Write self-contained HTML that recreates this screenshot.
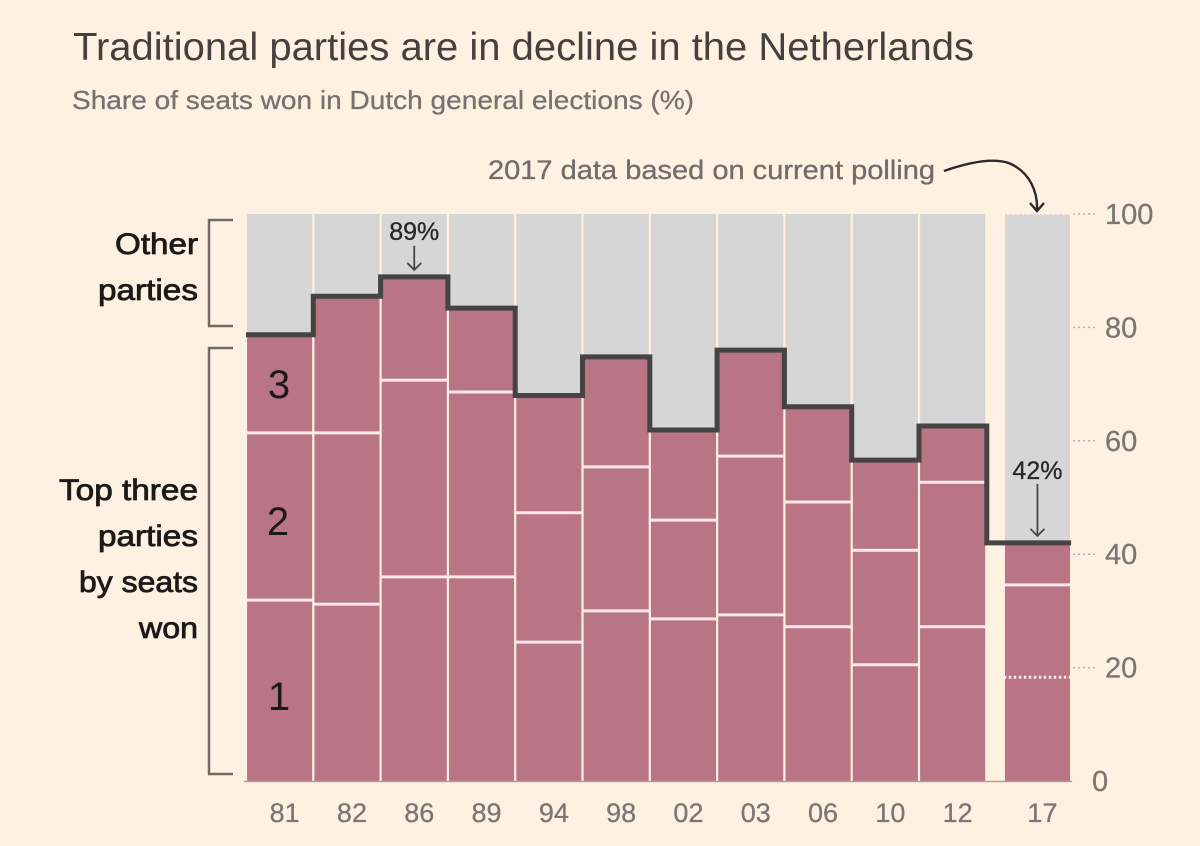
<!DOCTYPE html>
<html lang="en">
<head>
<meta charset="utf-8">
<title>Traditional parties are in decline in the Netherlands</title>
<style>
html,body{margin:0;padding:0;background:#fff1e2;}
svg{display:block;font-family:"Liberation Sans",sans-serif;}
</style>
</head>
<body>
<svg id="chart" xmlns="http://www.w3.org/2000/svg" width="1200" height="846" viewBox="0 0 1200 846">
  <rect x="0" y="0" width="1200" height="846" fill="#fff1e2"/>
  <text x="73" y="60" font-size="39" fill="#45403e" textLength="901" lengthAdjust="spacingAndGlyphs">Traditional parties are in decline in the Netherlands</text>
  <text x="72" y="109" font-size="26" fill="#77726f" stroke="#77726f" stroke-width="0.3" textLength="622" lengthAdjust="spacingAndGlyphs">Share of seats won in Dutch general elections (%)</text>
  <g id="bars"></g>
  <g id="yaxis"></g>
  <g id="xaxis"></g>
  <g id="annotations"></g>

  <path d="M233 220H209V326H233" fill="none" stroke="#6f6a64" stroke-width="2.5"/>
  <path d="M233 348H209V774H233" fill="none" stroke="#6f6a64" stroke-width="2.5"/>
  <g font-size="30" fill="#1c1a19" stroke="#1c1a19" stroke-width="0.8" text-anchor="end">
    <text x="198" y="254" textLength="83" lengthAdjust="spacingAndGlyphs">Other</text>
    <text x="198" y="300" textLength="100" lengthAdjust="spacingAndGlyphs">parties</text>
    <text x="198" y="500" textLength="139" lengthAdjust="spacingAndGlyphs">Top three</text>
    <text x="198" y="546" textLength="100" lengthAdjust="spacingAndGlyphs">parties</text>
    <text x="198" y="592" textLength="119" lengthAdjust="spacingAndGlyphs">by seats</text>
    <text x="198" y="638" textLength="59" lengthAdjust="spacingAndGlyphs">won</text>
  </g>
  <g font-size="40" fill="#1c1a19" text-anchor="middle">
    <text x="279" y="398">3</text>
    <text x="278" y="535">2</text>
    <text x="279" y="710">1</text>
  </g>

  <text x="488" y="179" font-size="27" fill="#716c69" stroke="#716c69" stroke-width="0.3" textLength="447" lengthAdjust="spacingAndGlyphs">2017 data based on current polling</text>
  <path d="M944 171C970 162 995 157 1011 164C1030 173 1038 192 1037 211M1030 203L1037 211L1044 203" fill="none" stroke="#2c2a29" stroke-width="2.4"/>
</svg>

<script>
const categories = ["81","82","86","89","94","98","02","03","06","10","12","17"];
const firstParty  = [31.9,31.2,36.0,36.0,24.5,30.0,28.6,29.3,27.2,20.5,27.2,18.3];
const secondParty = [29.5,30.2,34.7,32.6,22.8,25.4,17.4,28.0,22.0,20.2,25.5,16.3];
const thirdParty  = [17.3,24.1,18.2,14.8,20.7,19.4,15.9,18.7,16.8,15.9,9.9,7.4];
const yTicks = [0,20,40,60,80,100];
const calloutPeak = "86";
const calloutLatest = "17";

const NS = "http://www.w3.org/2000/svg";
const PLOT_LEFT = 246, BAND = 67.3, GAP = 17.5, Y0 = 781, Y100 = 214;
const lastIndex = categories.length - 1;

function yScale(v){ return Y0 - (Y0 - Y100) * v / 100; }
function xScale(i){ return PLOT_LEFT + i * BAND + (i === lastIndex ? GAP : 0); }

function make(tag, attrs, parent, text){
  const el = document.createElementNS(NS, tag);
  for (const k in attrs) el.setAttribute(k, attrs[k]);
  if (text !== undefined) el.textContent = text;
  parent.appendChild(el);
  return el;
}

const barsG = document.getElementById("bars");
const yG = document.getElementById("yaxis");
const xG = document.getElementById("xaxis");
const annG = document.getElementById("annotations");

const totals = categories.map((c, i) => firstParty[i] + secondParty[i] + thirdParty[i]);

categories.forEach((cat, i) => {
  const x = xScale(i);
  const w = BAND;
  const isPoll = i === lastIndex;
  const inset = 1.1;
  const c1 = firstParty[i], c2 = c1 + secondParty[i], c3 = totals[i];

  const other = make("rect", {x: x + inset, y: yScale(100), width: w - inset * 2, height: yScale(c3) - yScale(100), fill: "#d6d6d7"}, barsG);
  
  

  const top3 = make("rect", {x: x + inset, y: yScale(c3), width: w - inset * 2, height: yScale(0) - yScale(c3), fill: "#b97485"}, barsG);
  
  

  const div2 = make("line", {x1: x, x2: x + w, y1: yScale(c2), y2: yScale(c2), stroke: "#ffe9ea", "stroke-width": 3}, barsG);
  
  

  const div1 = make("line", {x1: x, x2: x + w, y1: yScale(c1), y2: yScale(c1), stroke: "#ffe9ea", "stroke-width": 3}, barsG);
  
  
  if (isPoll) div1.setAttribute("stroke-dasharray", "2.5 2.5");

  if (isPoll) {
    const edge = make("path", {
      d: "M" + x + " " + yScale(0) + "V" + yScale(100) + "H" + (x + w) + "V" + yScale(0),
      fill: "none", stroke: "#fff1e2", "stroke-width": 2, "stroke-dasharray": "2.5 2.5"
    }, barsG);
    
    
  }

  const label = make("text", {x: x + w / 2 + 5, y: 822, "font-size": 27, fill: "#7b7673", stroke: "#7b7673", "stroke-width": 0.3, "text-anchor": "middle"}, xG, cat);
  
  
});

const base = make("line", {x1: xScale(0) - 2, x2: xScale(lastIndex) + BAND + 1, y1: yScale(0) + 0.5, y2: yScale(0) + 0.5, stroke: "#a9a29c", "stroke-width": 1.5}, xG);



yTicks.forEach(t => {
  const y = yScale(t);
  if (t > 0) {
    const tick = make("line", {x1: xScale(lastIndex) + BAND + 2, x2: 1095, y1: y, y2: y, stroke: "#b5afa9", "stroke-width": 1.5, "stroke-dasharray": "2 3"}, yG);
    
    
  }
  const lab = make("text", {x: t === 0 ? 1092 : 1105, y: y + 10, "font-size": 29, fill: "#7b7673", stroke: "#7b7673", "stroke-width": 0.3}, yG, String(t));
  
  
});

let d = "M" + xScale(0) + " " + yScale(totals[0]);
categories.forEach((c, i) => {
  if (i === lastIndex) {
    d += "V" + yScale(totals[i]) + "H" + (xScale(i) + BAND);
  } else {
    d += (i > 0 ? "V" + yScale(totals[i]) : "") + "H" + (xScale(i) + BAND + (i === lastIndex - 1 ? 0.5 : 0));
  }
});
const step = make("path", {d: d, fill: "none", stroke: "#454343", "stroke-width": 5, "stroke-linejoin": "miter"}, barsG);



function callout(cat, textGap, arrowLen, name){
  const i = categories.indexOf(cat);
  const cx = xScale(i) + BAND / 2;
  const tipY = yScale(totals[i]) - 7;
  const head = tipY - arrowLen;
  const t = make("text", {x: cx, y: head - textGap, "font-size": 25, fill: "#2a2827", stroke: "#2a2827", "stroke-width": 0.3, "text-anchor": "middle"}, annG, Math.round(totals[i]) + "%");
  
  
  const a = make("path", {d: "M" + cx + " " + head + "V" + tipY + "M" + (cx - 7) + " " + (tipY - 7) + "L" + cx + " " + tipY + "L" + (cx + 7) + " " + (tipY - 7), fill: "none", stroke: "#4a4847", "stroke-width": 1.8}, annG);
  
  
}
callout(calloutPeak, 6, 24, "peak-callout");
callout(calloutLatest, 5, 52, "latest-callout");
</script>
</body>
</html>
